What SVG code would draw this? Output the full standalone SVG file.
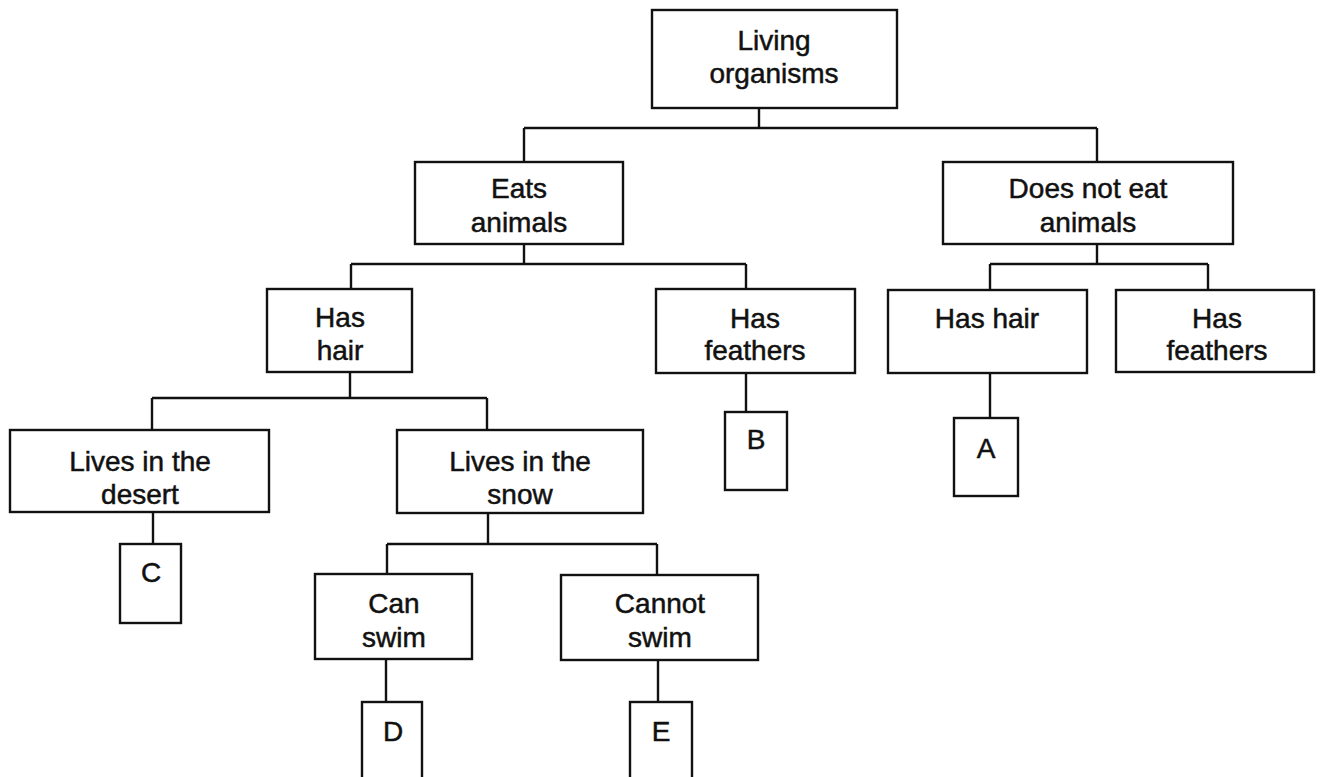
<svg xmlns="http://www.w3.org/2000/svg" width="1321" height="777" viewBox="0 0 1321 777">
<style>
.box{fill:#fff;stroke:#111;stroke-width:2.4}
.t{font-family:"Liberation Sans",Arial,sans-serif;font-size:28px;fill:#111;stroke:#111;stroke-width:0.5;text-anchor:middle}
.c{fill:none;stroke:#111;stroke-width:2.4}
</style>
<rect width="1321" height="777" fill="#fff"/>
<g id="connectors" class="c">
<path d="M759,108V128M524,128H1097M524,128V162M1097,128V162"/>
<path d="M524,244V264M351,264H746M351,264V289M746,264V289"/>
<path d="M1097,244V264M990,264H1208M990,264V290M1208,264V290"/>
<path d="M350,372V398M152,398H487M152,398V430M487,398V430"/>
<path d="M746,373V412"/>
<path d="M990,373V418"/>
<path d="M153,512V544"/>
<path d="M488,513V544M387,544H657M387,544V574M657,544V575"/>
<path d="M386,659V702"/>
<path d="M658,660V702"/>
</g>
<g id="root"><rect class="box" x="652" y="10" width="245" height="98"/><text class="t" x="774" y="50">Living</text><text class="t" x="774" y="83">organisms</text></g>
<g id="eats"><rect class="box" x="415" y="162" width="208" height="82"/><text class="t" x="519" y="198">Eats</text><text class="t" x="519" y="232">animals</text></g>
<g id="noteat"><rect class="box" x="943" y="162" width="290" height="82"/><text class="t" x="1088" y="198">Does not eat</text><text class="t" x="1088" y="232">animals</text></g>
<g id="hair1"><rect class="box" x="267" y="289" width="145" height="83"/><text class="t" x="340" y="327">Has</text><text class="t" x="340" y="360">hair</text></g>
<g id="feathers1"><rect class="box" x="656" y="289" width="199" height="84"/><text class="t" x="755" y="328">Has</text><text class="t" x="755" y="360">feathers</text></g>
<g id="hair2"><rect class="box" x="888" y="290" width="199" height="83"/><text class="t" x="987" y="328">Has hair</text></g>
<g id="feathers2"><rect class="box" x="1116" y="290" width="198" height="82"/><text class="t" x="1217" y="328">Has</text><text class="t" x="1217" y="360">feathers</text></g>
<g id="desert"><rect class="box" x="10" y="430" width="259" height="82"/><text class="t" x="140" y="471">Lives in the</text><text class="t" x="140" y="504">desert</text></g>
<g id="snow"><rect class="box" x="397" y="430" width="246" height="83"/><text class="t" x="520" y="471">Lives in the</text><text class="t" x="520" y="504">snow</text></g>
<g id="B"><rect class="box" x="725" y="412" width="62" height="78"/><text class="t" x="756" y="449">B</text></g>
<g id="A"><rect class="box" x="954" y="418" width="64" height="78"/><text class="t" x="986" y="458">A</text></g>
<g id="C"><rect class="box" x="120" y="544" width="61" height="79"/><text class="t" x="151" y="582">C</text></g>
<g id="canswim"><rect class="box" x="315" y="574" width="157" height="85"/><text class="t" x="394" y="613">Can</text><text class="t" x="394" y="647">swim</text></g>
<g id="cannotswim"><rect class="box" x="561" y="575" width="197" height="85"/><text class="t" x="660" y="613">Cannot</text><text class="t" x="660" y="647">swim</text></g>
<g id="D"><rect class="box" x="362" y="702" width="60" height="100"/><text class="t" x="393" y="741">D</text></g>
<g id="E"><rect class="box" x="630" y="702" width="62" height="100"/><text class="t" x="661" y="741">E</text></g>
</svg>
